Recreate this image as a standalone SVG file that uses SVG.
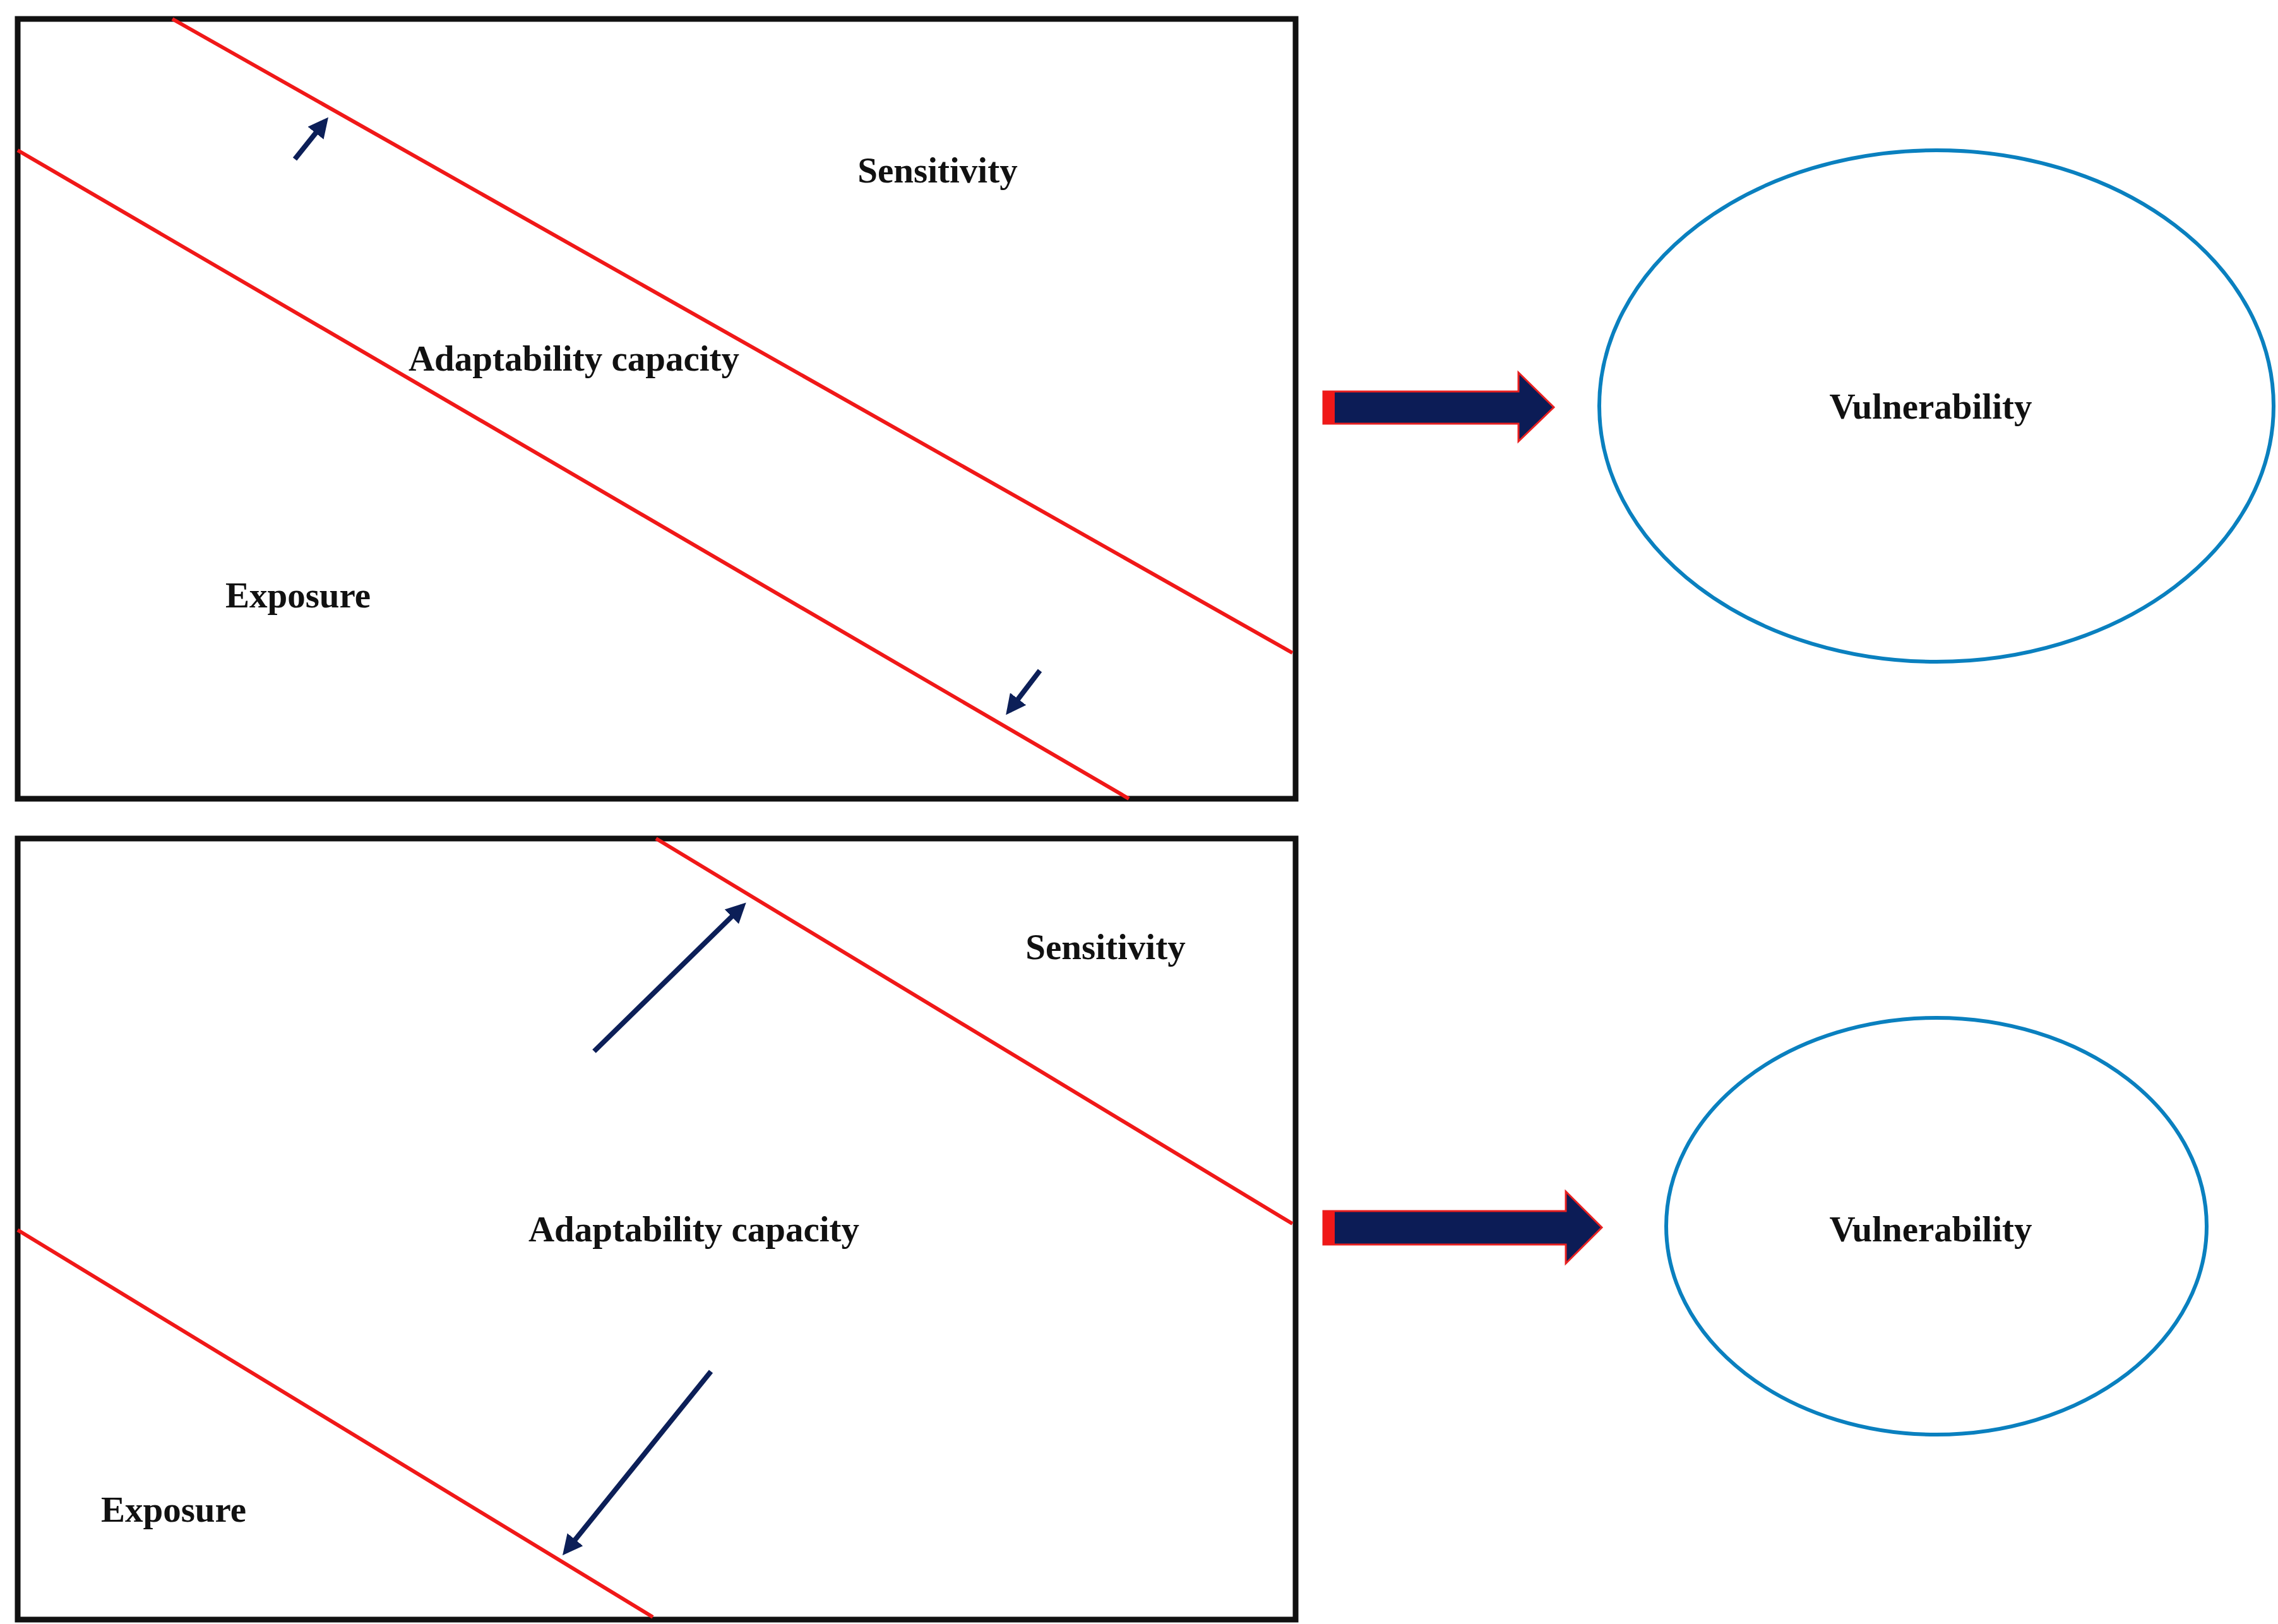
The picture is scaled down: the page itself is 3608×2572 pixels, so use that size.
<svg xmlns="http://www.w3.org/2000/svg" width="3608" height="2572" viewBox="0 0 3608 2572">
<style>
.box{fill:none;stroke:#111;stroke-width:9}
.red{stroke:#f01818;stroke-width:6;fill:none}
.ptr{stroke:#0c1f58;stroke-width:8;fill:none;marker-end:url(#ah)}
.ell{fill:none;stroke:#0a80bf;stroke-width:6}
.blk{fill:#0c1c56;stroke:#e82020;stroke-width:3}
text{font-family:"Liberation Serif","Times New Roman",serif;font-weight:bold;font-size:57px;text-anchor:middle;fill:#111}
</style>
<defs>
<marker id="ah" markerWidth="4" markerHeight="4" refX="3" refY="2" orient="auto" markerUnits="strokeWidth">
<path d="M0,0 L4,2 L0,4 Z" fill="#0c1f58"/>
</marker>
</defs>
<g id="panel1">
<rect class="box" x="28" y="30" width="2024" height="1235"/>
</g>
<g id="panel2">
<rect class="box" x="28" y="1328" width="2024" height="1237"/>
</g>
<g id="connectors">
<line class="red" x1="273" y1="30" x2="2047" y2="1034"/>
<line class="red" x1="28" y1="238" x2="1788" y2="1265"/>
<line class="red" x1="1039" y1="1328" x2="2047" y2="1938"/>
<line class="red" x1="28" y1="1948" x2="1034" y2="2561"/>
<line class="ptr" x1="467" y1="252" x2="515" y2="192"/>
<line class="ptr" x1="1647" y1="1062" x2="1598" y2="1126"/>
<line class="ptr" x1="941" y1="1665" x2="1176" y2="1435"/>
<line class="ptr" x1="1126" y1="2172" x2="896" y2="2457"/>
<path class="blk" d="M2096,620 H2405 V590 L2461,645 L2405,699 V671 H2096 Z"/>
<rect x="2096" y="620" width="18" height="51" fill="#f01818"/>
<path class="blk" d="M2096,1918 H2480 V1887 L2537,1944 L2480,2001 V1971 H2096 Z"/>
<rect x="2096" y="1918" width="18" height="53" fill="#f01818"/>
</g>
<g id="labels1">
<text x="1485" y="289">Sensitivity</text>
<text x="909" y="587">Adaptability capacity</text>
<text x="472" y="962">Exposure</text>
</g>
<g id="labels2">
<text x="1751" y="1519">Sensitivity</text>
<text x="1099" y="1966">Adaptability capacity</text>
<text x="275" y="2410">Exposure</text>
</g>
<g id="vuln1">
<ellipse class="ell" cx="3067" cy="643" rx="534" ry="405"/>
<text x="3058" y="663">Vulnerability</text>
</g>
<g id="vuln2">
<ellipse class="ell" cx="3067" cy="1942" rx="428" ry="330"/>
<text x="3058" y="1966">Vulnerability</text>
</g>
</svg>
